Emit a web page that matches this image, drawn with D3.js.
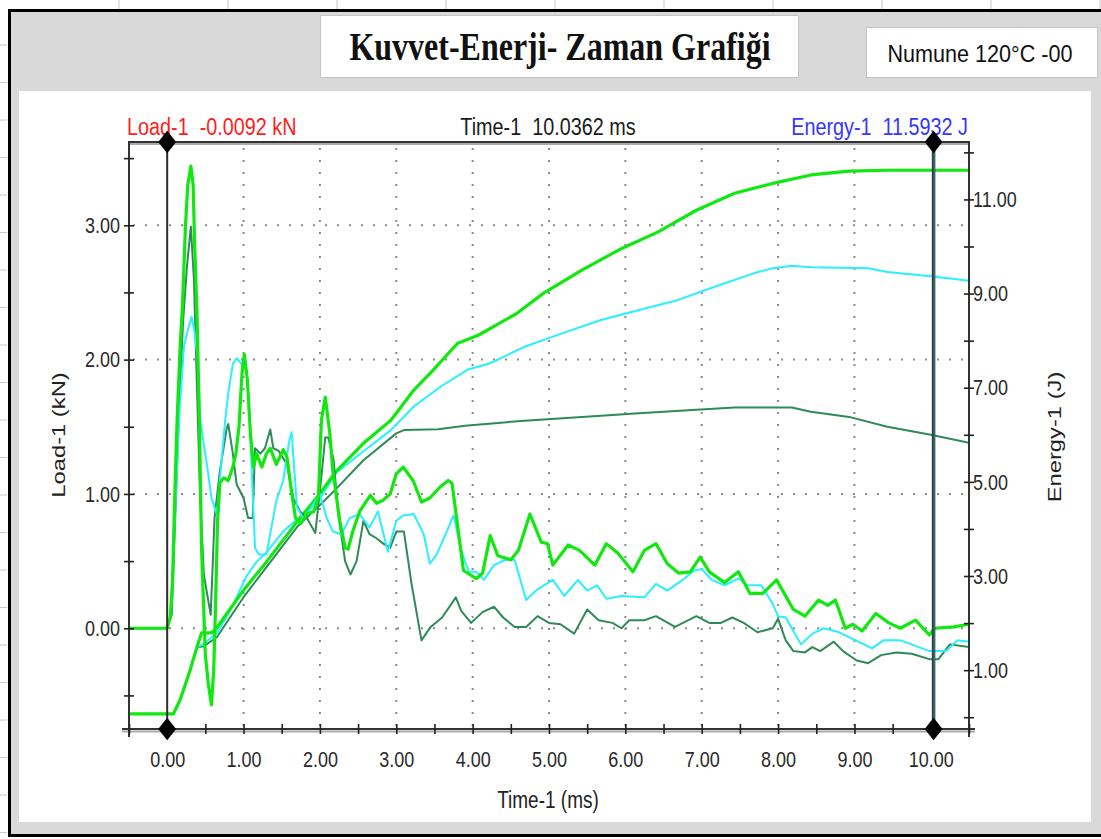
<!DOCTYPE html>
<html>
<head>
<meta charset="utf-8">
<script src="https://cdn.jsdelivr.net/npm/d3@7"></script>
<style>
    body { margin: 0; background: #fff; }
    svg { display: block; }
    text { font-family: "Liberation Sans", Arial, sans-serif; white-space: pre; }
</style>
</head>
<body>
<div id="chart"></div>
<script>
// ---- data (time in ms, load in kN, energy in J) ----
var chartTitle = 'Kuvvet-Enerji- Zaman Grafiği';
var sampleLabel = 'Numune 120°C -00';
var loadHeader = 'Load-1  -0.0092 kN';
var timeHeader = 'Time-1  10.0362 ms';
var energyHeader = 'Energy-1  11.5932 J';
var cursorTimes = [0, 10.0362];

var timeTicks = d3.range(-0.5, 10.51, 0.5);
var timeLabels = d3.range(0, 11, 1);
var loadTicks = [-0.5, 0, 0.5, 1, 1.5, 2, 2.5, 3, 3.5];
var loadLabels = [0, 1, 2, 3];
var energyTicks = d3.range(0, 13, 1);
var energyLabels = [1, 3, 5, 7, 9, 11];

// bright green specimen
var loadA = [[-0.5,0],[0,0],[0.04,0.08],[0.07,0.35],[0.1,1.0],[0.13,1.55],[0.17,2.1],[0.2,2.4],[0.24,3.0],[0.27,3.3],[0.31,3.44],[0.34,3.3],[0.36,2.85],[0.39,2.35],[0.42,1.6],[0.45,0.6],[0.5,-0.2],[0.54,-0.42],[0.58,-0.57],[0.61,-0.3],[0.63,0.1],[0.66,0.8],[0.69,1.08],[0.74,1.12],[0.8,1.1],[0.86,1.2],[0.9,1.3],[0.94,1.5],[0.98,1.9],[1.01,2.04],[1.05,1.85],[1.09,1.45],[1.13,1.2],[1.17,1.3],[1.24,1.2],[1.3,1.3],[1.35,1.34],[1.43,1.22],[1.52,1.33],[1.57,1.27],[1.62,1.05],[1.68,0.82],[1.75,0.78],[1.83,0.85],[1.92,0.87],[1.98,0.97],[2.02,1.55],[2.07,1.72],[2.13,1.45],[2.17,1.17],[2.26,0.8],[2.33,0.6],[2.37,0.59],[2.43,0.72],[2.52,0.87],[2.66,0.99],[2.74,0.93],[2.82,0.95],[2.92,1.0],[3.0,1.15],[3.09,1.2],[3.22,1.1],[3.33,0.94],[3.44,0.97],[3.57,1.05],[3.68,1.1],[3.73,1.08],[3.88,0.43],[4.05,0.37],[4.13,0.41],[4.23,0.69],[4.33,0.54],[4.5,0.51],[4.6,0.58],[4.75,0.85],[4.9,0.64],[4.98,0.63],[5.05,0.47],[5.25,0.62],[5.4,0.58],[5.6,0.47],[5.75,0.63],[5.9,0.56],[6.1,0.42],[6.25,0.58],[6.4,0.63],[6.55,0.48],[6.7,0.41],[6.85,0.42],[6.98,0.53],[7.1,0.42],[7.3,0.34],[7.48,0.42],[7.63,0.26],[7.8,0.26],[7.98,0.36],[8.2,0.14],[8.35,0.09],[8.53,0.21],[8.65,0.17],[8.75,0.21],[8.88,0.0],[8.98,0.03],[9.1,-0.02],[9.28,0.11],[9.45,0.04],[9.6,0.0],[9.8,0.06],[9.98,-0.05],[10.05,0.0],[10.3,0.01],[10.5,0.03]];
var energyA = [[-0.5,0.07],[0.08,0.07],[0.17,0.37],[0.3,1.0],[0.39,1.49],[0.45,1.79],[0.58,1.79],[0.65,1.9],[1.0,2.7],[1.3,3.3],[1.7,4.15],[2.0,4.75],[2.2,5.2],[2.57,5.82],[2.93,6.31],[3.23,6.95],[3.48,7.37],[3.8,7.94],[4.08,8.12],[4.58,8.58],[4.93,9.01],[5.43,9.5],[5.93,9.94],[6.43,10.31],[6.93,10.77],[7.43,11.13],[7.93,11.34],[8.43,11.52],[8.93,11.6],[9.43,11.62],[10.5,11.62]];

// cyan specimen
var loadB = [[-0.5,0],[0,0],[0.05,0.1],[0.1,0.8],[0.16,1.6],[0.22,2.1],[0.27,2.22],[0.32,2.32],[0.36,2.2],[0.4,2.0],[0.43,1.57],[0.47,1.4],[0.52,1.22],[0.58,0.97],[0.65,0.85],[0.7,1.17],[0.76,1.55],[0.8,1.75],[0.86,1.97],[0.91,2.01],[0.97,1.97],[1.04,1.92],[1.08,1.57],[1.12,1.0],[1.15,0.6],[1.2,0.55],[1.3,0.55],[1.43,0.95],[1.52,1.1],[1.6,1.4],[1.63,1.46],[1.65,1.3],[1.7,0.9],[1.78,0.82],[1.89,0.9],[2.0,1.0],[2.09,0.82],[2.17,0.72],[2.28,0.7],[2.39,0.82],[2.52,0.85],[2.65,0.75],[2.76,0.87],[2.89,0.57],[3.0,0.8],[3.09,0.84],[3.23,0.85],[3.36,0.7],[3.44,0.48],[3.53,0.55],[3.66,0.72],[3.75,0.84],[3.85,0.58],[3.95,0.42],[4.05,0.42],[4.15,0.36],[4.28,0.47],[4.43,0.51],[4.55,0.51],[4.7,0.21],[4.85,0.29],[5.05,0.36],[5.2,0.24],[5.38,0.36],[5.5,0.28],[5.63,0.32],[5.75,0.22],[5.95,0.24],[6.25,0.23],[6.4,0.33],[6.55,0.28],[6.75,0.36],[6.9,0.43],[7.0,0.44],[7.13,0.36],[7.3,0.32],[7.48,0.37],[7.6,0.32],[7.78,0.32],[7.93,0.18],[8.0,0.09],[8.1,0.08],[8.3,-0.12],[8.45,-0.04],[8.6,0.0],[8.8,-0.03],[9.05,-0.1],[9.23,-0.15],[9.38,-0.09],[9.6,-0.09],[9.75,-0.12],[9.98,-0.17],[10.2,-0.17],[10.35,-0.09],[10.5,-0.1]];
var energyB = [[-0.5,0.07],[0.08,0.07],[0.17,0.37],[0.3,1.0],[0.39,1.49],[0.47,1.55],[0.65,1.79],[0.83,2.28],[1.04,3.0],[1.17,3.3],[1.3,3.5],[1.52,3.95],[1.7,4.2],[2.0,4.65],[2.22,5.2],[2.57,5.65],[2.93,6.1],[3.23,6.6],[3.58,7.02],[3.93,7.38],[4.23,7.52],[4.68,7.87],[5.18,8.16],[5.68,8.44],[6.18,8.65],[6.68,8.86],[7.18,9.15],[7.68,9.43],[7.93,9.54],[8.18,9.59],[8.43,9.56],[9.18,9.54],[9.43,9.46],[10.0,9.37],[10.5,9.27]];

// dark green specimen
var loadC = [[-0.5,0],[0,0],[0.06,0.1],[0.11,0.9],[0.16,1.7],[0.21,2.3],[0.26,2.7],[0.31,2.99],[0.35,2.6],[0.39,1.8],[0.43,1.0],[0.48,0.4],[0.57,0.1],[0.62,0.82],[0.69,1.17],[0.78,1.49],[0.8,1.52],[0.86,1.3],[0.91,1.07],[1.0,0.97],[1.06,0.82],[1.12,0.82],[1.15,1.34],[1.22,1.3],[1.28,1.34],[1.35,1.48],[1.39,1.34],[1.46,1.32],[1.57,1.22],[1.65,0.97],[1.74,0.87],[1.83,0.82],[1.94,0.71],[2.0,1.02],[2.07,1.42],[2.11,1.42],[2.18,1.25],[2.24,0.85],[2.33,0.5],[2.4,0.4],[2.48,0.5],[2.57,0.8],[2.65,0.7],[2.74,0.67],[2.83,0.63],[2.92,0.6],[3.0,0.72],[3.1,0.72],[3.2,0.33],[3.33,-0.09],[3.45,0.01],[3.6,0.08],[3.78,0.23],[3.85,0.13],[3.98,0.04],[4.13,0.12],[4.28,0.16],[4.4,0.08],[4.55,0.01],[4.7,0.01],[4.85,0.09],[5.0,0.04],[5.15,0.03],[5.33,-0.04],[5.5,0.14],[5.65,0.06],[5.83,0.04],[5.95,0.0],[6.05,0.06],[6.25,0.06],[6.4,0.09],[6.65,0.01],[6.93,0.09],[7.1,0.04],[7.25,0.04],[7.4,0.08],[7.55,0.04],[7.73,-0.03],[7.93,0.0],[8.0,0.07],[8.1,-0.09],[8.2,-0.17],[8.35,-0.18],[8.45,-0.14],[8.55,-0.17],[8.73,-0.1],[8.85,-0.17],[9.03,-0.24],[9.18,-0.26],[9.35,-0.2],[9.55,-0.18],[9.75,-0.19],[9.98,-0.23],[10.1,-0.23],[10.25,-0.12],[10.5,-0.14]];
var energyC = [[-0.5,0.07],[0.08,0.07],[0.17,0.37],[0.3,1.0],[0.39,1.49],[0.47,1.5],[0.65,1.7],[1.0,2.55],[1.3,3.19],[1.7,4.04],[2.0,4.51],[2.2,4.83],[2.57,5.46],[3.0,6.03],[3.1,6.1],[3.55,6.12],[3.9,6.19],[4.68,6.3],[5.43,6.38],[6.18,6.46],[6.93,6.53],[7.43,6.58],[8.18,6.58],[8.43,6.49],[8.93,6.38],[9.43,6.17],[10.0,6.0],[10.5,5.83]];

// ---- layout ----
var W = 1101, H = 839;
var plot = { left: 129, right: 969, top: 142, bottom: 729 };
var stretch = 1.25; // the source picture is taller than its text would be

var colA = '#10e810', colB = '#28f0ff', colC = '#2e8b57';

var svg = d3.select('#chart').append('svg')
    .attr('width', W)
    .attr('height', H);

// sheet background behind the chart object
var sheet = svg.append('g');
sheet.append('rect').attr('width', W).attr('height', H).attr('fill', '#fff');
sheet.selectAll('line.col')
    .data(d3.range(119, W, 109))
    .enter().append('line')
    .attr('x1', function (d) { return d; }).attr('x2', function (d) { return d; })
    .attr('y1', 0).attr('y2', 9)
    .attr('stroke', '#c8c8c8');
sheet.selectAll('line.row')
    .data(d3.range(45, H, 37.5))
    .enter().append('line')
    .attr('x1', 0).attr('x2', 7)
    .attr('y1', function (d) { return d; }).attr('y2', function (d) { return d; })
    .attr('stroke', '#c8c8c8');

// chart object: black border + grey fill
svg.append('rect')
    .attr('x', 9.5).attr('y', 10.5)
    .attr('width', W).attr('height', 825)
    .attr('fill', '#d9d9d9')
    .attr('stroke', '#000')
    .attr('stroke-width', 3);

// title boxes
svg.append('rect')
    .attr('x', 320.5).attr('y', 15.5).attr('width', 478).attr('height', 62)
    .attr('fill', '#fff').attr('stroke', '#c4c4c4');
svg.append('text')
    .attr('transform', 'translate(560,60) scale(1,' + stretch + ')')
    .attr('text-anchor', 'middle')
    .style('font-family', '"Liberation Serif", "Times New Roman", serif')
    .style('font-weight', 'bold')
    .style('font-size', '32px')
    .attr('fill', '#111')
    .text(chartTitle);

svg.append('rect')
    .attr('x', 866.5).attr('y', 27.5).attr('width', 231).attr('height', 50)
    .attr('fill', '#fff').attr('stroke', '#c4c4c4');
svg.append('text')
    .attr('transform', 'translate(980,62) scale(1.08,1.15)')
    .attr('text-anchor', 'middle')
    .style('font-size', '20px')
    .attr('fill', '#111')
    .text(sampleLabel);

// white chart panel
svg.append('rect')
    .attr('x', 19).attr('y', 91).attr('width', 1072).attr('height', 731)
    .attr('fill', '#fff');

// ---- scales ----
var x = d3.scaleLinear().domain([-0.5, 10.5]).range([plot.left, plot.right]);
var yLoad = d3.scaleLinear().domain([-0.75, 3.62]).range([plot.bottom, plot.top]);
var yEnergy = d3.scaleLinear().domain([-0.25, 12.22]).range([plot.bottom, plot.top]);

// dotted grid
var grid = svg.append('g')
    .attr('stroke', '#8a8a8a')
    .attr('stroke-width', 2)
    .attr('stroke-dasharray', '2,10');
grid.selectAll('line.h')
    .data(loadLabels)
    .enter().append('line')
    .attr('x1', plot.left + 4).attr('x2', plot.right)
    .attr('y1', function (d) { return yLoad(d); })
    .attr('y2', function (d) { return yLoad(d); });
grid.selectAll('line.v')
    .data(d3.range(1, 10))
    .enter().append('line')
    .attr('y1', plot.top + 6).attr('y2', plot.bottom)
    .attr('x1', function (d) { return x(d); })
    .attr('x2', function (d) { return x(d); });

// ---- curves ----
svg.append('clipPath').attr('id', 'clip')
    .append('rect')
    .attr('x', plot.left).attr('y', plot.top)
    .attr('width', plot.right - plot.left).attr('height', plot.bottom - plot.top);

var loadLine = d3.line()
    .x(function (d) { return x(d[0]); })
    .y(function (d) { return yLoad(d[1]); });
var energyLine = d3.line()
    .x(function (d) { return x(d[0]); })
    .y(function (d) { return yEnergy(d[1]); });

var curves = svg.append('g').attr('clip-path', 'url(#clip)')
    .attr('fill', 'none')
    .attr('stroke-linejoin', 'round');

var series = [
    { data: energyC, line: energyLine, color: colC, width: 2 },
    { data: energyB, line: energyLine, color: colB, width: 2 },
    { data: energyA, line: energyLine, color: colA, width: 3.2 },
    { data: loadC, line: loadLine, color: colC, width: 2 },
    { data: loadB, line: loadLine, color: colB, width: 2 },
    { data: loadA, line: loadLine, color: colA, width: 3.2 }
];
series.forEach(function (s) {
    curves.append('path')
        .attr('d', s.line(s.data))
        .attr('stroke', s.color)
        .attr('stroke-width', s.width);
});

// ---- frame and axes ----
var frame = svg.append('g').attr('fill', 'none');
frame.append('line')
    .attr('x1', plot.left - 1).attr('x2', plot.right + 1)
    .attr('y1', plot.top + 2).attr('y2', plot.top + 2)
    .attr('stroke', '#aaa').attr('stroke-width', 2);
frame.append('line')
    .attr('x1', plot.left - 1).attr('x2', plot.right + 1)
    .attr('y1', plot.top).attr('y2', plot.top)
    .attr('stroke', '#333').attr('stroke-width', 2);
frame.append('line')
    .attr('x1', plot.left - 7).attr('x2', plot.right + 6)
    .attr('y1', plot.bottom + 2.5).attr('y2', plot.bottom + 2.5)
    .attr('stroke', '#aaa').attr('stroke-width', 2);
frame.append('line')
    .attr('x1', plot.left - 7).attr('x2', plot.right + 6)
    .attr('y1', plot.bottom).attr('y2', plot.bottom)
    .attr('stroke', '#333').attr('stroke-width', 2);
frame.append('line')
    .attr('x1', plot.left).attr('x2', plot.left)
    .attr('y1', plot.top).attr('y2', plot.bottom + 8)
    .attr('stroke', '#333').attr('stroke-width', 2);
frame.append('line')
    .attr('x1', plot.right).attr('x2', plot.right)
    .attr('y1', plot.top).attr('y2', plot.bottom + 8)
    .attr('stroke', '#333').attr('stroke-width', 2);

function crossTicks(g, a, b) {
    g.select('.domain').remove();
    g.selectAll('.tick line').attr(a, 5).attr(b, -5)
        .attr('stroke', '#222').attr('stroke-width', 1.6);
}

function styleLabels(g) {
    g.select('.domain').remove();
    g.selectAll('.tick line').remove();
    g.selectAll('.tick text')
        .style('font-family', '"Liberation Sans", Arial, sans-serif')
        .style('font-size', '18px')
        .attr('fill', '#2a2a2a');
}

var fmt = d3.format('.2f');

svg.append('g').attr('transform', 'translate(' + plot.left + ',0)')
    .call(d3.axisLeft(yLoad).tickValues(loadTicks).tickFormat(''))
    .call(function (g) { crossTicks(g, 'x1', 'x2'); });
svg.append('g').attr('transform', 'translate(' + (plot.left - 9) + ',0)')
    .call(d3.axisLeft(yLoad).tickValues(loadLabels).tickSize(0).tickPadding(0).tickFormat(fmt))
    .call(styleLabels)
    .call(function (g) {
        g.selectAll('.tick text').attr('dy', '0.32em')
            .attr('transform', 'scale(1,' + stretch + ')');
    });

svg.append('g').attr('transform', 'translate(' + plot.right + ',0)')
    .call(d3.axisRight(yEnergy).tickValues(energyTicks).tickFormat(''))
    .call(function (g) { crossTicks(g, 'x1', 'x2'); });
svg.append('g').attr('transform', 'translate(' + (plot.right + 4) + ',0)')
    .call(d3.axisRight(yEnergy).tickValues(energyLabels).tickSize(0).tickPadding(0).tickFormat(fmt))
    .call(styleLabels)
    .call(function (g) {
        g.selectAll('.tick text').attr('dy', '0.32em')
            .attr('transform', 'scale(1,' + stretch + ')');
    });

svg.append('g').attr('transform', 'translate(0,' + plot.bottom + ')')
    .call(d3.axisBottom(x).tickValues(timeTicks).tickFormat(''))
    .call(function (g) { crossTicks(g, 'y1', 'y2'); });
svg.append('g').attr('transform', 'translate(0,' + plot.bottom + ')')
    .call(d3.axisBottom(x).tickValues(timeLabels).tickSize(0).tickPadding(0).tickFormat(fmt))
    .call(styleLabels)
    .call(function (g) {
        g.selectAll('.tick text').attr('y', 18).attr('dy', '0.71em')
            .attr('transform', 'scale(1,' + stretch + ')');
    });

// axis titles and the cursor read-out
function label(txt, tx, ty, rot, color, anchor, size) {
    var scale = rot ? 'scale(' + stretch + ',1)' : 'scale(1,' + stretch + ')';
    svg.append('text')
        .attr('transform', 'translate(' + tx + ',' + ty + ')' + (rot ? ' rotate(-90)' : '') + ' ' + scale)
        .attr('text-anchor', anchor || 'middle')
        .style('font-size', (size || 19) + 'px')
        .attr('fill', color || '#222')
        .text(txt);
}
label('Time-1 (ms)', 548, 808);
label('Load-1 (kN)', 65, 435, true);
label('Energy-1 (J)', 1061, 437, true);

label(loadHeader, 127, 135, false, '#ff1c1c', 'start', 19.8);
label(timeHeader, 548, 135, false, '#1a1a1a', 'middle', 19.8);
label(energyHeader, 968, 135, false, '#3636ff', 'end', 19.8);

// ---- cursors ----
var cursors = svg.append('g');
cursors.append('line')
    .attr('x1', x(cursorTimes[0])).attr('x2', x(cursorTimes[0]))
    .attr('y1', plot.top).attr('y2', plot.bottom)
    .attr('stroke', '#2b2b2b').attr('stroke-width', 2);
cursors.append('line')
    .attr('x1', x(cursorTimes[1])).attr('x2', x(cursorTimes[1]))
    .attr('y1', plot.top).attr('y2', plot.bottom)
    .attr('stroke', '#1f3d42').attr('stroke-width', 3.5);
cursors.append('line')
    .attr('x1', x(cursorTimes[1]) + 0.5).attr('x2', x(cursorTimes[1]) + 0.5)
    .attr('y1', plot.top).attr('y2', plot.bottom)
    .attr('stroke', '#5f9ea0').attr('stroke-width', 0.8);

// cursor handles: a square diamond, stretched like the rest of the picture
var handle = {
    draw: function (ctx, size) {
        var r = Math.sqrt(size) / 2;
        ctx.moveTo(0, -r);
        ctx.lineTo(r, 0);
        ctx.lineTo(0, r);
        ctx.lineTo(-r, 0);
        ctx.closePath();
    }
};
var diamonds = [];
cursorTimes.forEach(function (t) {
    diamonds.push([t, plot.top], [t, plot.bottom]);
});
cursors.selectAll('path.diamond')
    .data(diamonds)
    .enter().append('path')
    .attr('transform', function (d) { return 'translate(' + x(d[0]) + ',' + d[1] + ') scale(1,' + stretch + ')'; })
    .attr('d', d3.symbol().type(handle).size(320))
    .attr('fill', '#000');
</script>
</body>
</html>
